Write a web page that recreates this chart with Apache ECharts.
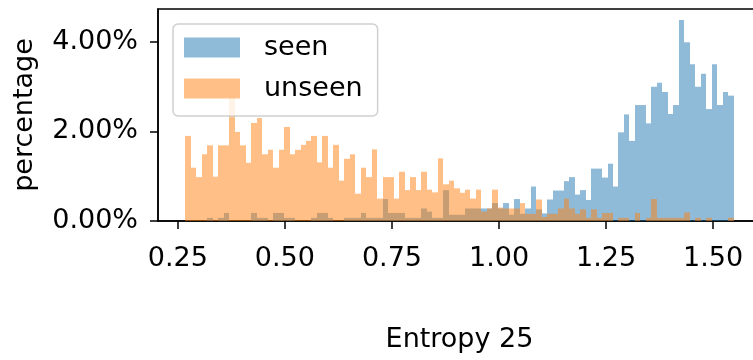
<!DOCTYPE html>
<html>
<head>
<meta charset="utf-8">
<script src="https://cdn.jsdelivr.net/npm/echarts@6/dist/echarts.min.js"></script>
<style>
  html, body { margin: 0; padding: 0; background: #ffffff; }
  #chart { width: 753px; height: 360px; }
</style>
</head>
<body>
<div id="chart"></div>
<script>
// Histogram of "Entropy 25": 100 equal-width bins, values in percent of samples.
const binStart = 0.2677;
const binWidth = 0.0128;

const seen = [
  0, 0, 0, 0, 0.07, 0, 0.07, 0.18, 0, 0,
  0, 0, 0.18, 0.07, 0.07, 0, 0.18, 0.18, 0.07, 0.07,
  0, 0, 0, 0.07, 0.18, 0.18, 0.07, 0, 0, 0.07,
  0.07, 0.07, 0.18, 0.07, 0.07, 0.07, 0.49, 0.18, 0.18, 0.18,
  0.07, 0.07, 0.07, 0.28, 0.21, 0.07, 0.07, 0.69, 0.14, 0.14,
  0.14, 0.28, 0.28, 0.28, 0.28, 0.28, 0.40, 0.28, 0.40, 0.14,
  0.49, 0.16, 0.28, 0.77, 0.26, 0.17, 0.48, 0.68, 0.68, 0.89,
  0.98, 0.59, 0.69, 0.47, 1.17, 1.17, 0.97, 1.28, 0.77, 1.98,
  2.38, 1.79, 2.59, 2.59, 2.18, 3.00, 3.09, 2.88, 2.39, 2.59,
  4.49, 3.99, 3.50, 3.00, 3.29, 2.50, 3.50, 2.59, 2.88, 2.80
];

const unseen = [
  1.90, 1.19, 0.98, 1.49, 1.69, 0.99, 1.69, 1.69, 2.90, 1.99,
  1.69, 1.30, 2.19, 2.30, 1.49, 1.59, 1.19, 1.59, 2.10, 1.49,
  1.59, 1.70, 1.79, 1.90, 1.31, 1.90, 1.19, 1.70, 0.90, 1.39,
  1.49, 0.61, 1.19, 0.98, 1.60, 0.50, 0.98, 0.98, 0.50, 1.10,
  0.69, 0.98, 0.69, 1.10, 0.70, 0.64, 1.40, 0.82, 0.90, 0.73,
  0.63, 0.70, 0.50, 0.70, 0.21, 0.28, 0.70, 0.30, 0.28, 0.28,
  0.28, 0.40, 0.16, 0.16, 0.48, 0.09, 0.16, 0.16, 0.28, 0.50,
  0.28, 0.16, 0.26, 0.07, 0.26, 0.07, 0.18, 0.18, 0, 0.07,
  0.07, 0, 0.18, 0, 0.07, 0.49, 0.07, 0.07, 0.07, 0.07,
  0.07, 0.19, 0, 0.07, 0, 0.07, 0, 0, 0, 0.07
];

const xTicks = [0.25, 0.50, 0.75, 1.00, 1.25, 1.50];
const yTicks = [0, 2, 4];

const seriesNames = ['seen', 'unseen'];
const seriesColors = ['#1f77b4', '#ff7f0e'];
const legendColors = ['#8fbbd9', '#ffbf86'];

const FONT = 'DejaVu Sans';

function toBins(values) {
  return values.map((v, i) => [binStart + i * binWidth, v, binStart + (i + 1) * binWidth]);
}

function makeRender(color) {
  return function (params, api) {
    const h = api.value(1);
    if (!(h > 0)) return null;
    const top = api.coord([api.value(0), h]);
    const bottom = api.coord([api.value(2), 0]);
    const left = Math.round(top[0]);
    const right = Math.round(bottom[0]);
    return {
      type: 'rect',
      shape: { x: left, y: top[1], width: right - left, height: bottom[1] - top[1] },
      style: { fill: color, opacity: 0.5 }
    };
  };
}

const chart = echarts.init(document.getElementById('chart'), null, { renderer: 'canvas' });

chart.setOption({
  animation: false,
  backgroundColor: '#ffffff',
  textStyle: { fontFamily: FONT },
  grid: {
    left: 158, top: 9, width: 603, height: 212,
    outerBoundsMode: 'none',
    containLabel: false,
    show: true, borderColor: '#000000', borderWidth: 1.5, backgroundColor: 'transparent'
  },
  legend: {
    left: 173, top: 24,
    orient: 'vertical',
    itemWidth: 56, itemHeight: 20, itemGap: 14,
    padding: [10, 15, 14, 11],
    backgroundColor: 'rgba(255,255,255,0.8)',
    borderColor: '#d0d0d0', borderWidth: 1.5, borderRadius: 5,
    textStyle: { fontFamily: FONT, fontSize: 27, color: '#000000', lineHeight: 27, padding: [0, 0, 0, 19] },
    data: seriesNames.map((n, k) => ({ name: n, icon: 'rect', itemStyle: { color: legendColors[k], opacity: 1 } }))
  },
  xAxis: {
    type: 'value',
    min: 0.2037, max: 1.6117,
    name: 'Entropy 25', nameLocation: 'middle', nameGap: 105,
    nameTextStyle: { fontFamily: FONT, fontSize: 27, color: '#000000' },
    axisLine: { show: true, onZero: false, lineStyle: { color: '#000000', width: 1.5 } },
    axisTick: { show: true, length: 8, lineStyle: { color: '#000000', width: 1.5 }, customValues: xTicks },
    axisLabel: {
      fontFamily: FONT, fontSize: 27, color: '#000000', margin: 24,
      customValues: xTicks,
      formatter: v => v.toFixed(2)
    },
    splitLine: { show: false }
  },
  yAxis: {
    type: 'value',
    min: 0, max: 4.735,
    name: 'percentage', nameLocation: 'middle', nameGap: 120,
    nameTextStyle: { fontFamily: FONT, fontSize: 27, color: '#000000' },
    axisLine: { show: true, lineStyle: { color: '#000000', width: 1.5 } },
    axisTick: { show: true, length: 8, lineStyle: { color: '#000000', width: 1.5 }, customValues: yTicks },
    axisLabel: {
      fontFamily: FONT, fontSize: 27, color: '#000000', margin: 20,
      customValues: yTicks,
      formatter: v => v.toFixed(2) + '%'
    },
    splitLine: { show: false }
  },
  series: [seen, unseen].map((vals, k) => ({
    type: 'custom',
    name: seriesNames[k],
    renderItem: makeRender(seriesColors[k]),
    encode: { x: [0, 2], y: 1 },
    itemStyle: { color: legendColors[k] },
    data: toBins(vals),
    z: 2 + k
  }))
});
</script>
</body>
</html>
